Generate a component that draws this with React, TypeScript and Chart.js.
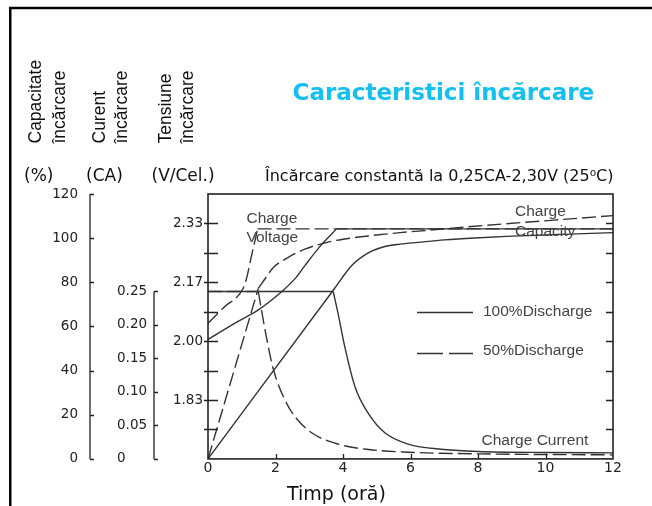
import React, { useEffect, useRef } from 'react';
import { Chart, registerables } from 'chart.js';

Chart.register(...registerables);

// ---------- axis ticks ----------
const hourTicks = [0, 2, 4, 6, 8, 10, 12];
const capacityTicks = [0, 20, 40, 60, 80, 100, 120];
const currentTicks = [0, 0.05, 0.1, 0.15, 0.2, 0.25];
const currentTickLabels = ['0', '0.05', '0.10', '0.15', '0.20', '0.25'];
const voltageTicks = [1.75, 1.8333, 1.9167, 2.0, 2.0833, 2.1667, 2.25, 2.3333];
const voltageTickLabels = ['', '1.83', '', '2.00', '', '2.17', '', '2.33'];

// ---------- 100% discharge ----------
const v100RiseH = [0, 0.89, 1.48, 2.18, 2.58, 2.87, 3.37, 3.81];
const v100RiseV = [2.005, 2.056, 2.088, 2.14, 2.177, 2.214, 2.274, 2.318];
const v100HoldH = [3.81, 12];
const v100HoldV = [2.318, 2.318];

const i100HoldH = [0, 3.71];
const i100HoldI = [0.25, 0.25];
const i100DecayH = [3.71, 3.85, 4.05, 4.36, 4.75, 5.24, 5.93, 7.0, 8.0, 10.0, 12.0];
const i100DecayI = [0.25, 0.218, 0.168, 0.107, 0.068, 0.039, 0.022, 0.014, 0.011, 0.0095, 0.009];

const c100H = [0, 3.71, 4.26, 4.75, 5.24, 5.69, 6.23, 7.0, 7.9, 9.0, 10.5, 12];
const c100C = [0, 76.4, 87.6, 93.3, 96.2, 97.3, 98.1, 99.2, 100.1, 100.9, 101.7, 102.5];

// ---------- 50% discharge ----------
const v50RiseH = [0, 0.5, 1.04, 1.14, 1.29, 1.39, 1.47];
const v50RiseV = [2.051, 2.098, 2.149, 2.177, 2.242, 2.284, 2.318];
const v50HoldH = [1.47, 12];
const v50HoldV = [2.318, 2.318];

const i50HoldH = [0, 1.49];
const i50HoldI = [0.25, 0.25];
const i50DecayH = [1.49, 1.7, 1.93, 2.28, 2.58, 3.07, 3.86, 4.75, 5.93, 8.0, 12.0];
const i50DecayI = [0.25, 0.19, 0.135, 0.088, 0.063, 0.039, 0.022, 0.014, 0.01, 0.0075, 0.006];

const c50RiseH = [0, 1.49];
const c50RiseC = [0, 77.2];
const c50CurveH = [1.49, 1.69, 1.93, 2.38, 2.87, 3.5, 4.0, 4.75, 5.69, 6.23, 7.91, 12];
const c50CurveC = [77.2, 81.6, 86.6, 91.3, 95.0, 98.0, 99.5, 101.0, 102.5, 103.2, 105.4, 110.2];

const LINE = '#333333';
const DASH = [14, 5];

const pts = (xs: number[], ys: number[]) => xs.map((x, i) => ({ x, y: ys[i] }));

function series(label: string, xs: number[], ys: number[], axis: string, dashed: boolean, curved: boolean) {
  return {
    label,
    data: pts(xs, ys),
    yAxisID: axis,
    borderColor: LINE,
    borderWidth: 1.4,
    borderDash: dashed ? DASH : [],
    pointRadius: 0,
    fill: false,
    tension: 0,
    cubicInterpolationMode: curved ? 'monotone' : 'default',
  };
}

const decor = {
  id: 'decor',
  beforeDraw(chart: any) {
    const { ctx, width, height } = chart;
    ctx.save();
    ctx.fillStyle = '#ffffff';
    ctx.fillRect(0, 0, width, height);
    ctx.restore();
  },
  afterDraw(chart: any) {
    const { ctx, chartArea: a, scales } = chart;
    const sx = scales.x;
    const sC = scales.yC;
    const sI = scales.yI;
    const sV = scales.yV;
    ctx.save();

    // outer frame
    ctx.strokeStyle = '#000';
    ctx.lineWidth = 2.5;
    ctx.beginPath();
    ctx.moveTo(10.25, chart.height);
    ctx.lineTo(10.25, 8);
    ctx.lineTo(chart.width, 8);
    ctx.stroke();

    // plot frame
    ctx.strokeStyle = '#222';
    ctx.lineWidth = 1.6;
    ctx.strokeRect(a.left, a.top, a.right - a.left, a.bottom - a.top);

    // voltage ticks (left & right) and hour ticks
    ctx.lineWidth = 1.3;
    ctx.beginPath();
    voltageTicks.forEach((v) => {
      const y = Math.round(sV.getPixelForValue(v)) + 0.5;
      ctx.moveTo(a.left - 4, y);
      ctx.lineTo(a.left + 10, y);
      ctx.moveTo(a.right - 7, y);
      ctx.lineTo(a.right, y);
    });
    hourTicks.slice(1, -1).forEach((h) => {
      const x = Math.round(sx.getPixelForValue(h)) + 0.5;
      ctx.moveTo(x, a.bottom);
      ctx.lineTo(x, a.bottom - 5);
    });
    ctx.stroke();

    // capacity axis spine
    const xc = sC.right - 27;
    ctx.beginPath();
    ctx.moveTo(xc, sC.getPixelForValue(capacityTicks[0]));
    ctx.lineTo(xc, sC.getPixelForValue(capacityTicks[capacityTicks.length - 1]));
    capacityTicks.forEach((v) => {
      const y = Math.round(sC.getPixelForValue(v)) + 0.5;
      ctx.moveTo(xc, y);
      ctx.lineTo(xc + 4, y);
    });
    ctx.stroke();

    // current axis spine
    const xi = sI.right - 6;
    ctx.beginPath();
    ctx.moveTo(xi, sI.getPixelForValue(currentTicks[0]));
    ctx.lineTo(xi, sI.getPixelForValue(currentTicks[currentTicks.length - 1]));
    currentTicks.forEach((v) => {
      const y = Math.round(sI.getPixelForValue(v)) + 0.5;
      ctx.moveTo(xi, y);
      ctx.lineTo(xi + 4, y);
    });
    ctx.stroke();

    // legend lines
    ctx.strokeStyle = '#333';
    ctx.lineWidth = 1.4;
    ctx.beginPath();
    ctx.moveTo(417, 312.5);
    ctx.lineTo(473, 312.5);
    ctx.stroke();
    ctx.setLineDash([26, 6]);
    ctx.beginPath();
    ctx.moveTo(417, 353.5);
    ctx.lineTo(473, 353.5);
    ctx.stroke();
    ctx.setLineDash([]);

    // texts
    ctx.textAlign = 'left';
    ctx.textBaseline = 'alphabetic';

    ctx.fillStyle = '#444';
    ctx.font = '15.5px "Liberation Sans", Arial, sans-serif';
    ctx.fillText('Charge', 246.5, 223);
    ctx.fillText('Voltage', 246.5, 242);
    ctx.fillText('Charge', 515, 216);
    ctx.fillText('Capacity', 515, 236);
    ctx.fillText('100%Discharge', 483, 316);
    ctx.fillText('50%Discharge', 483, 354.5);
    ctx.fillText('Charge Current', 481.5, 444.5);

    // title
    ctx.fillStyle = '#14bff2';
    ctx.font = 'bold 23px "DejaVu Sans", sans-serif';
    ctx.fillText('Caracteristici încărcare', 292.5, 100);

    // header line
    ctx.fillStyle = '#111';
    ctx.font = '16px "DejaVu Sans", sans-serif';
    ctx.fillText('Încărcare constantă la 0,25CA-2,30V (25⁰C)', 265, 181);
    ctx.font = '17px "DejaVu Sans", sans-serif';
    ctx.fillText('(%)', 24, 181);
    ctx.fillText('(CA)', 86, 181);
    ctx.fillText('(V/Cel.)', 151.5, 181);

    // x axis title
    ctx.font = '19px "DejaVu Sans", sans-serif';
    ctx.fillText('Timp (oră)', 287, 500);

    // rotated axis headings
    ctx.font = '17.5px "Liberation Sans", Arial, sans-serif';
    const rot = (s: string, x: number, y: number) => {
      ctx.save();
      ctx.translate(x, y);
      ctx.rotate(-Math.PI / 2);
      ctx.fillText(s, 0, 0);
      ctx.restore();
    };
    rot('Capacitate', 41, 143.5);
    rot('încărcare', 65, 143.5);
    rot('Curent', 104.5, 143.5);
    rot('încărcare', 127, 143.5);
    rot('Tensiune', 170.5, 143.5);
    rot('încărcare', 192.5, 143.5);

    ctx.restore();
  },
};

const tickFont = { family: '"DejaVu Sans", sans-serif', size: 13.5 };

export default function App() {
  const ref = useRef<HTMLCanvasElement | null>(null);

  useEffect(() => {
    if (!ref.current) return;
    const chart = new Chart(ref.current, {
      type: 'line',
      data: {
        datasets: [
          series('Charge voltage 100%', v100RiseH, v100RiseV, 'yV', false, true),
          series('Charge voltage 100% hold', v100HoldH, v100HoldV, 'yV', false, false),
          series('Charge voltage 50%', v50RiseH, v50RiseV, 'yV', true, true),
          series('Charge voltage 50% hold', v50HoldH, v50HoldV, 'yV', true, false),
          series('Charge current 100% constant', i100HoldH, i100HoldI, 'yI', false, false),
          series('Charge current 100%', i100DecayH, i100DecayI, 'yI', false, true),
          series('Charge current 50% constant', i50HoldH, i50HoldI, 'yI', true, false),
          series('Charge current 50%', i50DecayH, i50DecayI, 'yI', true, true),
          series('Charge capacity 100%', c100H, c100C, 'yC', false, true),
          series('Charge capacity 50% rise', c50RiseH, c50RiseC, 'yC', true, false),
          series('Charge capacity 50%', c50CurveH, c50CurveC, 'yC', true, true),
        ] as any,
      },
      options: {
        responsive: false,
        animation: false,
        events: [],
        layout: { padding: { left: 0, top: 194, right: 39, bottom: 13 } },
        plugins: {
          legend: { display: false },
          tooltip: { enabled: false },
          title: { display: false },
        },
        scales: {
          x: {
            type: 'linear',
            position: 'bottom',
            min: 0,
            max: 12,
            grid: { display: false, drawTicks: false },
            border: { display: false },
            afterBuildTicks: (s: any) => {
              s.ticks = hourTicks.map((v) => ({ value: v }));
            },
            afterFit: (s: any) => {
              s.height = 30;
            },
            ticks: {
              autoSkip: false,
              maxRotation: 0,
              padding: 1,
              color: '#222',
              font: { family: '"DejaVu Sans", sans-serif', size: 14 },
              callback: (v: any) => String(v),
            },
          },
          yC: {
            type: 'linear',
            position: 'left',
            weight: 3,
            min: 0,
            max: 120,
            grid: { display: false, drawTicks: false },
            border: { display: false },
            afterBuildTicks: (s: any) => {
              s.ticks = capacityTicks.map((v) => ({ value: v }));
            },
            afterFit: (s: any) => {
              s.width = 117;
            },
            ticks: {
              autoSkip: false,
              padding: 39,
              color: '#222',
              font: tickFont,
              callback: (v: any) => String(v),
            },
          },
          yI: {
            type: 'linear',
            position: 'left',
            weight: 2,
            min: 0,
            max: 0.3956,
            grid: { display: false, drawTicks: false },
            border: { display: false },
            afterBuildTicks: (s: any) => {
              s.ticks = currentTicks.map((v) => ({ value: v }));
            },
            afterFit: (s: any) => {
              s.width = 43;
            },
            ticks: {
              autoSkip: false,
              crossAlign: 'far',
              padding: 0,
              color: '#222',
              font: tickFont,
              callback: (_v: any, i: number) => currentTickLabels[i],
            },
          },
          yV: {
            type: 'linear',
            position: 'left',
            weight: 1,
            min: 1.6667,
            max: 2.4167,
            grid: { display: false, drawTicks: false },
            border: { display: false },
            afterBuildTicks: (s: any) => {
              s.ticks = voltageTicks.map((v) => ({ value: v }));
            },
            afterFit: (s: any) => {
              s.width = 48;
            },
            ticks: {
              autoSkip: false,
              padding: 5,
              color: '#222',
              font: tickFont,
              callback: (_v: any, i: number) => voltageTickLabels[i],
            },
          },
        },
      } as any,
      plugins: [decor as any],
    });
    return () => chart.destroy();
  }, []);

  return (
    <div style={{ position: 'fixed', left: 0, top: 0, width: 652, height: 506, background: '#fff' }}>
      <canvas ref={ref} width={652} height={506} style={{ display: 'block' }} />
    </div>
  );
}
